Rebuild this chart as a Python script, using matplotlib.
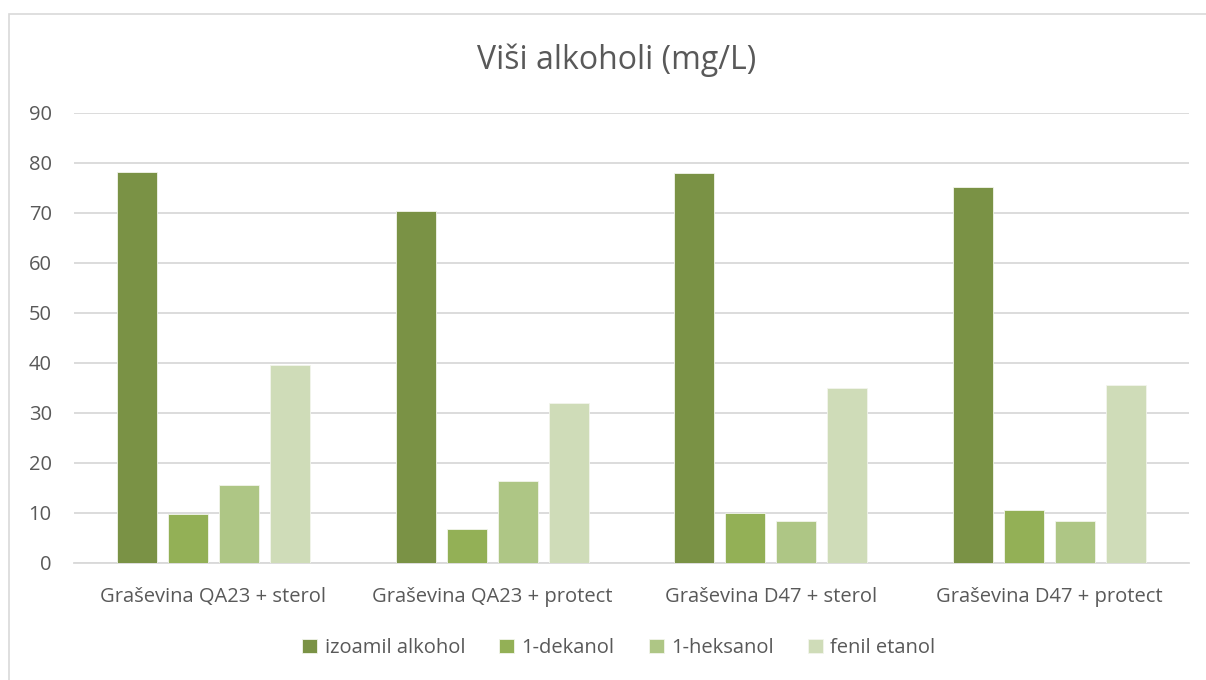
import numpy as np
import matplotlib.pyplot as plt
from matplotlib.patches import Rectangle

plt.rcParams['font.family'] = ['Open Sans', 'DejaVu Sans']

categories = ['Graševina QA23 + sterol', 'Graševina QA23 + protect',
              'Graševina D47 + sterol', 'Graševina D47 + protect']
series = ['izoamil alkohol', '1-dekanol', '1-heksanol', 'fenil etanol']
izoamil = [78.2, 70.5, 78.0, 75.2]
dekanol = [9.9, 6.9, 10.1, 10.6]
heksanol = [15.7, 16.5, 8.5, 8.4]
fenil = [39.6, 32.1, 35.1, 35.6]
values = [izoamil, dekanol, heksanol, fenil]
colors = ['#7a9245', '#93b056', '#aec685', '#cfdcb8']
text_col = '#595959'

fig = plt.figure(figsize=(12.06, 6.8), dpi=100)
# light border around the chart
fig.patches.append(Rectangle((9 / 1206, -0.01), 1.02, (680 - 14) / 680 + 0.01,
                             transform=fig.transFigure, fill=False,
                             ec='#d9d9d9', lw=1.2))

ax = fig.add_axes([74 / 1206, 117 / 680, (1189 - 74) / 1206, 450 / 680])
x = np.arange(len(categories))
pitch = 0.183
width = 0.143
for i, (name, vals) in enumerate(zip(series, values)):
    ax.bar(x + (i - 1.5) * pitch, vals, width, color=colors[i], label=name,
           edgecolor='#f2f5ec', linewidth=0.6, zorder=3)

ax.set_xlim(-0.5, 3.5)
ax.set_ylim(0, 90)
ax.set_yticks(range(0, 91, 10))
ax.yaxis.grid(True, color='#d9d9d9', linewidth=1.3, zorder=0)
ax.set_xticks(x)
ax.set_xticklabels(categories)
ax.tick_params(axis='both', length=0, labelsize=14.5, colors=text_col)
ax.tick_params(axis='x', pad=17)
ax.tick_params(axis='y', pad=16)
for s in ['left', 'right', 'top']:
    ax.spines[s].set_visible(False)
ax.spines['bottom'].set_color('#d9d9d9')
ax.spines['bottom'].set_linewidth(1.3)

fig.text(0.511, 0.912, 'Viši alkoholi (mg/L)', ha='center', va='center',
         fontsize=23, color=text_col)

fig.legend(loc='center', bbox_to_anchor=(0.513, 0.047), ncol=4, frameon=False,
           fontsize=14.5, labelcolor=text_col, handlelength=0.75,
           handleheight=0.75, handletextpad=0.35, columnspacing=1.7)

fig.savefig('out.png', dpi=100, facecolor='white')
